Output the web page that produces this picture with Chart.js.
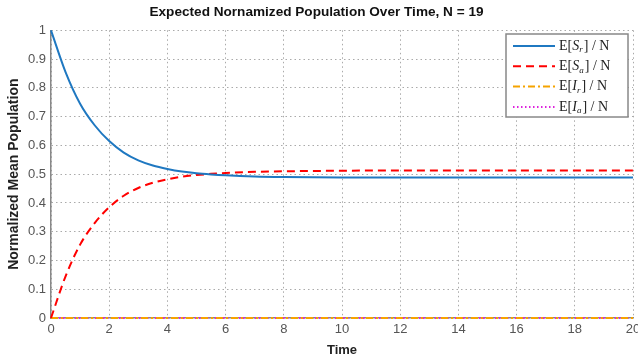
<!DOCTYPE html>
<html><head><meta charset="utf-8">
<script src="https://cdn.jsdelivr.net/npm/chart.js@4/dist/chart.umd.min.js"></script>
<style>html,body{margin:0;padding:0;background:#fff}#wrap{width:638px;height:358px;position:relative}</style>
</head><body><div id="wrap"><canvas id="c" width="638" height="358"></canvas></div>
<script>
const times = [0,0.5,1,1.5,2,2.5,3,3.5,4,4.5,5,5.5,6,7,8,9,10,11,12,13,14,15,16,17,18,19,20];
const sr = [1.0,0.855,0.745,0.67,0.615,0.575,0.548,0.530,0.518,0.509,0.503,0.499,0.496,0.492,0.490,0.489,0.4885,0.4885,0.4885,0.4885,0.4885,0.4885,0.4885,0.4885,0.4885,0.4885,0.4885];
const sa = [0.0,0.145,0.255,0.33,0.385,0.425,0.452,0.470,0.482,0.491,0.497,0.501,0.504,0.508,0.510,0.511,0.512,0.5125,0.5125,0.5125,0.5125,0.5125,0.5125,0.5125,0.5125,0.5125,0.5125];
const ir = times.map(()=>0);
const ia = times.map(()=>0);
const xTicks = [0,2,4,6,8,10,12,14,16,18,20];
const yTicks = [0,0.1,0.2,0.3,0.4,0.5,0.6,0.7,0.8,0.9,1];
const seriesLabels = [["S","r"],["S","a"],["I","r"],["I","a"]];

const toPts = arr => times.map((t,i)=>({x:t,y:arr[i]}));
const styles = [
  {color:'#1f78c1', dash:[], width:2},
  {color:'#ff0000', dash:[8,5], width:2},
  {color:'#f5a300', dash:[7,3,2,3], width:2},
  {color:'#dd22dd', dash:[1.5,2.5], width:2}
];
const dataArrs = [sr,sa,ir,ia];

const legendPlugin = {
  id:'mlegend',
  afterDraw(chart){
    const ctx = chart.ctx;
    const bx=506, by=34, bw=122, bh=83;
    ctx.save();
    ctx.fillStyle='#fff';
    ctx.fillRect(bx,by,bw,bh);
    ctx.strokeStyle='#888'; ctx.lineWidth=1.5;
    ctx.strokeRect(bx,by,bw,bh);
    seriesLabels.forEach((lab,i)=>{
      const y = by+12+i*20.3;
      const st = styles[i];
      ctx.strokeStyle=st.color; ctx.lineWidth=st.width; ctx.setLineDash(st.dash);
      ctx.beginPath(); ctx.moveTo(513,y); ctx.lineTo(555,y); ctx.stroke();
      ctx.setLineDash([]);
      ctx.fillStyle='#222'; ctx.textBaseline='middle'; ctx.textAlign='left';
      let x=559;
      ctx.font='14px "Liberation Serif", serif';
      ctx.fillText('E[',x,y); x+=ctx.measureText('E[').width;
      ctx.font='italic 14px "Liberation Serif", serif';
      ctx.fillText(lab[0],x,y); x+=ctx.measureText(lab[0]).width;
      ctx.font='italic 9px "Liberation Serif", serif';
      ctx.fillText(lab[1],x,y+4); x+=ctx.measureText(lab[1]).width+1;
      ctx.font='14px "Liberation Serif", serif';
      ctx.fillText('] / N',x,y);
    });
    ctx.restore();
  }
};

new Chart(document.getElementById('c'),{
  type:'line',
  data:{datasets: dataArrs.map((a,i)=>({
    label: 'E['+seriesLabels[i].join('_')+'] / N',
    data: toPts(a),
    borderColor: styles[i].color,
    borderWidth: styles[i].width,
    borderDash: styles[i].dash,
    pointRadius:0, fill:false, clip:4,
    cubicInterpolationMode:'monotone'
  }))},
  options:{
    responsive:false, animation:false,
    layout:{padding:{right:5,left:0,top:0,bottom:0}},
    plugins:{
      legend:{display:false}, tooltip:{enabled:false},
      title:{display:true, text:'Expected Nornamized Population Over Time, N = 19',
        font:{family:'"Liberation Sans", Arial, sans-serif', size:13.6, weight:'bold'}, color:'#111',
        padding:{top:4,bottom:10}}
    },
    scales:{
      x:{type:'linear', min:0, max:20,
        afterBuildTicks(s){s.ticks = xTicks.map(v=>({value:v}));},
        afterFit(s){s.height=40; s.paddingRight=0; s.paddingLeft=0;},
        grid:{color:'#aaa', drawTicks:false, lineWidth:1},
        border:{display:true,color:'#888',width:1.5,dash:[1.5,3],z:-1},
        ticks:{color:'#555', padding:4, maxRotation:0, font:{family:'"Liberation Sans", Arial, sans-serif', size:13}},
        title:{display:true,text:'Time',color:'#222',padding:{top:0,bottom:0},font:{family:'"Liberation Sans", Arial, sans-serif', size:13, weight:'bold'}}
      },
      y:{type:'linear', min:0, max:1,
        afterBuildTicks(s){s.ticks = yTicks.map(v=>({value:v}));},
        afterFit(s){s.width=51;},
        grid:{color:'#aaa', drawTicks:false, lineWidth:1},
        border:{display:true,color:'#888',width:1.5,dash:[1.5,3],z:-1},
        ticks:{color:'#555', padding:5, font:{family:'"Liberation Sans", Arial, sans-serif', size:13},
          callback:v=>String(Math.round(v*10)/10)},
        title:{display:true,text:'Normalized Mean Population',color:'#222',padding:{top:6,bottom:2},font:{family:'"Liberation Sans", Arial, sans-serif', size:14, weight:'bold'}}
      }
    }
  },
  plugins:[legendPlugin]
});
</script></body></html>
